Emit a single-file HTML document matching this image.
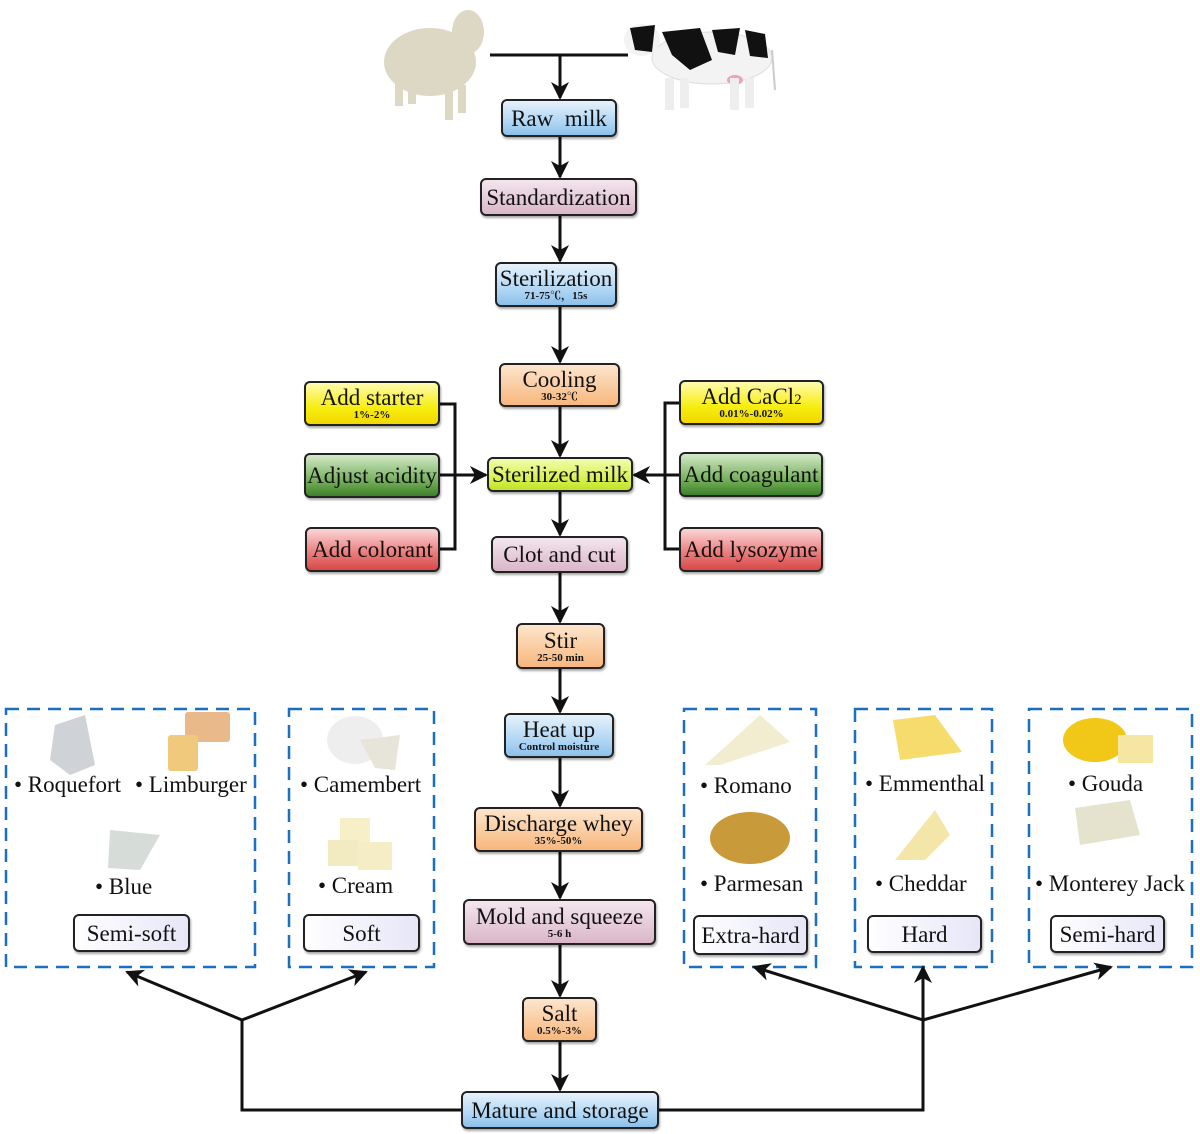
<!DOCTYPE html>
<html><head><meta charset="utf-8"><style>
body{margin:0;width:1200px;height:1134px;background:#fff;position:relative;overflow:hidden;font-family:"Liberation Serif","Noto Serif CJK SC",serif;}
.b{position:absolute;box-sizing:border-box;border:2px solid #222;border-radius:6px;text-align:center;color:#111;font-size:23px;line-height:1;display:flex;flex-direction:column;justify-content:center;align-items:center;box-shadow:1px 2px 2px rgba(0,0,0,.35);}
.b small{font-size:11px;font-weight:bold;margin-top:1px}
.blue{background:linear-gradient(#e6f2fc,#a9d2f3 70%,#8cc0ea);}
.pink{background:linear-gradient(#f3e6ee,#dab6c8);}
.org{background:linear-gradient(#fde5cc,#f7b77d);}
.yel{background:linear-gradient(#fffbb0,#f7ee10 60%,#f2d800);}
.grn{background:linear-gradient(#d3e9c8,#6aa84f 70%,#3e7f2b);}
.red{background:linear-gradient(#fbd6d6,#ea7a7a 60%,#d84848);}
.yg{background:linear-gradient(#f3fcb0,#d4f046 70%,#c1e12a);}
.cat{background:linear-gradient(90deg,#fff,#e6e6f8);border-radius:6px;}
.t{position:absolute;font-size:23px;color:#111;white-space:nowrap}
svg{position:absolute;left:0;top:0}
</style></head><body>
<svg width="1200" height="1134">
<defs>
<marker id="h" markerWidth="18" markerHeight="18" refX="16" refY="9" orient="auto" markerUnits="userSpaceOnUse"><path d="M0,0 L18,9 L0,18 L5,9z" fill="#111"/></marker></defs>
<g stroke="#1a6fbf" stroke-width="2.5" fill="none" stroke-dasharray="13,8">
<rect x="6" y="709" width="249" height="258"/>
<rect x="289" y="709" width="145" height="258"/>
<rect x="684" y="709" width="132" height="258"/>
<rect x="855" y="709" width="137" height="258"/>
<rect x="1029" y="709" width="163" height="258"/>
</g>
<g stroke="#111" stroke-width="3" fill="none">
<line x1="490" y1="55" x2="628" y2="55"/>
<line x1="560" y1="55" x2="560" y2="98" marker-end="url(#h)"/>
<line x1="560" y1="137" x2="560" y2="177" marker-end="url(#h)"/>
<line x1="560" y1="216" x2="560" y2="261" marker-end="url(#h)"/>
<line x1="560" y1="307" x2="560" y2="362" marker-end="url(#h)"/>
<line x1="560" y1="407" x2="560" y2="456" marker-end="url(#h)"/>
<line x1="560" y1="492" x2="560" y2="535" marker-end="url(#h)"/>
<line x1="560" y1="573" x2="560" y2="622" marker-end="url(#h)"/>
<line x1="560" y1="669" x2="560" y2="712" marker-end="url(#h)"/>
<line x1="560" y1="758" x2="560" y2="806" marker-end="url(#h)"/>
<line x1="560" y1="852" x2="560" y2="898" marker-end="url(#h)"/>
<line x1="560" y1="945" x2="560" y2="996" marker-end="url(#h)"/>
<line x1="560" y1="1042" x2="560" y2="1090" marker-end="url(#h)"/>
<polyline points="440,404 455,404 455,549 440,549"/>
<line x1="440" y1="475" x2="486" y2="475" marker-end="url(#h)"/>
<polyline points="679,403 665,403 665,549 679,549"/>
<line x1="679" y1="475" x2="634" y2="475" marker-end="url(#h)"/>
<polyline points="461,1110 242,1110 242,1020"/>
<line x1="242" y1="1020" x2="127" y2="972" marker-end="url(#h)"/>
<line x1="242" y1="1020" x2="366" y2="972" marker-end="url(#h)"/>
<polyline points="659,1110 923,1110 923,1020"/>
<line x1="923" y1="1020" x2="923" y2="967" marker-end="url(#h)"/>
<line x1="923" y1="1020" x2="754" y2="967" marker-end="url(#h)"/>
<line x1="923" y1="1020" x2="1111" y2="967" marker-end="url(#h)"/>
</g>
<g fill="#dcd8c3">
<ellipse cx="430" cy="62" rx="46" ry="34"/>
<ellipse cx="468" cy="32" rx="16" ry="22"/>
<rect x="395" y="80" width="8" height="26"/><rect x="408" y="80" width="8" height="24"/><rect x="445" y="85" width="8" height="35"/><rect x="458" y="85" width="8" height="28"/>
</g>
<g>
<ellipse cx="712" cy="58" rx="60" ry="26" fill="#f3f3f3" stroke="#ddd"/>
<ellipse cx="642" cy="40" rx="18" ry="16" fill="#f3f3f3"/>
<path d="M630,28 L655,25 L652,52 L635,50z" fill="#111"/>
<path d="M662,32 L700,28 L712,60 L690,70 L672,55z" fill="#111"/>
<path d="M712,30 L740,28 L735,55 L718,52z" fill="#111"/>
<path d="M745,30 L765,34 L768,58 L750,56z" fill="#111"/>
<ellipse cx="735" cy="80" rx="8" ry="5" fill="#f2a2b4"/>
<rect x="665" y="78" width="9" height="32" fill="#eee"/><rect x="680" y="78" width="9" height="30" fill="#eee"/><rect x="730" y="78" width="9" height="32" fill="#eee"/><rect x="745" y="78" width="9" height="30" fill="#eee"/>
<line x1="772" y1="50" x2="775" y2="90" stroke="#ccc" stroke-width="2"/>
</g>
<path d="M55,725 L85,715 L95,765 L70,775 L50,760z" fill="#cfd3d8"/>
<rect x="185" y="712" width="45" height="30" fill="#eab98a" rx="3"/><rect x="168" y="735" width="30" height="36" fill="#f1c97c" rx="3"/>
<path d="M110,830 L160,835 L140,870 L108,868z" fill="#d6dcd8"/>
<ellipse cx="355" cy="740" rx="28" ry="24" fill="#eeeeee"/><path d="M360,740 L400,735 L395,770 L375,768z" fill="#e7e4da"/>
<rect x="340" y="818" width="30" height="25" fill="#f6efc8"/><rect x="328" y="840" width="30" height="26" fill="#f2ebc2"/><rect x="358" y="842" width="34" height="28" fill="#f4edc5"/>
<path d="M705,765 L760,715 L790,742 L720,765z" fill="#f2ecd0"/>
<ellipse cx="750" cy="838" rx="40" ry="26" fill="#c99a3a"/>
<path d="M893,720 L935,715 L962,752 L900,760z" fill="#f6dc6c"/>
<path d="M895,860 L935,810 L950,835 L925,860z" fill="#f4e6a8"/>
<ellipse cx="1095" cy="740" rx="32" ry="22" fill="#f2c818"/><rect x="1118" y="735" width="35" height="28" fill="#f6e6a4"/>
<path d="M1075,808 L1130,800 L1140,835 L1080,845z" fill="#e5e3cd"/>
</svg>

<div class="b blue" style="left:501px;top:99px;width:116px;height:38px">Raw&nbsp; milk</div>
<div class="b pink" style="left:480px;top:178px;width:157px;height:38px">Standardization</div>
<div class="b blue" style="left:495px;top:262px;width:122px;height:45px">Sterilization<small>71-75℃，15s</small></div>
<div class="b org" style="left:499px;top:363px;width:121px;height:44px">Cooling<small>30-32℃</small></div>
<div class="b yel" style="left:304px;top:381px;width:136px;height:45px">Add starter<small>1%-2%</small></div>
<div class="b grn" style="left:304px;top:453px;width:136px;height:45px">Adjust acidity</div>
<div class="b red" style="left:305px;top:527px;width:135px;height:45px">Add colorant</div>
<div class="b yg" style="left:487px;top:457px;width:146px;height:35px">Sterilized milk</div>
<div class="b yel" style="left:679px;top:380px;width:145px;height:45px"><span>Add CaCl<span style="font-size:15px">2</span></span><small>0.01%-0.02%</small></div>
<div class="b grn" style="left:679px;top:452px;width:144px;height:45px">Add coagulant</div>
<div class="b red" style="left:679px;top:527px;width:144px;height:45px">Add lysozyme</div>
<div class="b pink" style="left:491px;top:536px;width:137px;height:37px">Clot and cut</div>
<div class="b org" style="left:516px;top:623px;width:89px;height:46px">Stir<small>25-50 min</small></div>
<div class="b blue" style="left:504px;top:713px;width:110px;height:45px">Heat up<small>Control moisture</small></div>
<div class="b org" style="left:474px;top:807px;width:169px;height:45px">Discharge whey<small>35%-50%</small></div>
<div class="b pink" style="left:463px;top:899px;width:193px;height:46px">Mold and squeeze<small>5-6 h</small></div>
<div class="b org" style="left:522px;top:997px;width:75px;height:45px">Salt<small>0.5%-3%</small></div>
<div class="b blue" style="left:461px;top:1091px;width:198px;height:38px">Mature and storage</div>

<div class="t" style="left:14px;top:772px">• Roquefort</div>
<div class="t" style="left:135px;top:772px">• Limburger</div>
<div class="t" style="left:95px;top:874px">• Blue</div>
<div class="t" style="left:300px;top:772px">• Camembert</div>
<div class="t" style="left:318px;top:873px">• Cream</div>
<div class="t" style="left:700px;top:773px">• Romano</div>
<div class="t" style="left:700px;top:871px">• Parmesan</div>
<div class="t" style="left:865px;top:771px">• Emmenthal</div>
<div class="t" style="left:875px;top:871px">• Cheddar</div>
<div class="t" style="left:1068px;top:771px">• Gouda</div>
<div class="t" style="left:1035px;top:871px">• Monterey Jack</div>

<div class="b cat" style="left:73px;top:914px;width:117px;height:38px">Semi-soft</div>
<div class="b cat" style="left:303px;top:914px;width:117px;height:38px">Soft</div>
<div class="b cat" style="left:693px;top:915px;width:115px;height:40px">Extra-hard</div>
<div class="b cat" style="left:867px;top:915px;width:115px;height:38px">Hard</div>
<div class="b cat" style="left:1050px;top:915px;width:115px;height:38px">Semi-hard</div>
</body></html>
